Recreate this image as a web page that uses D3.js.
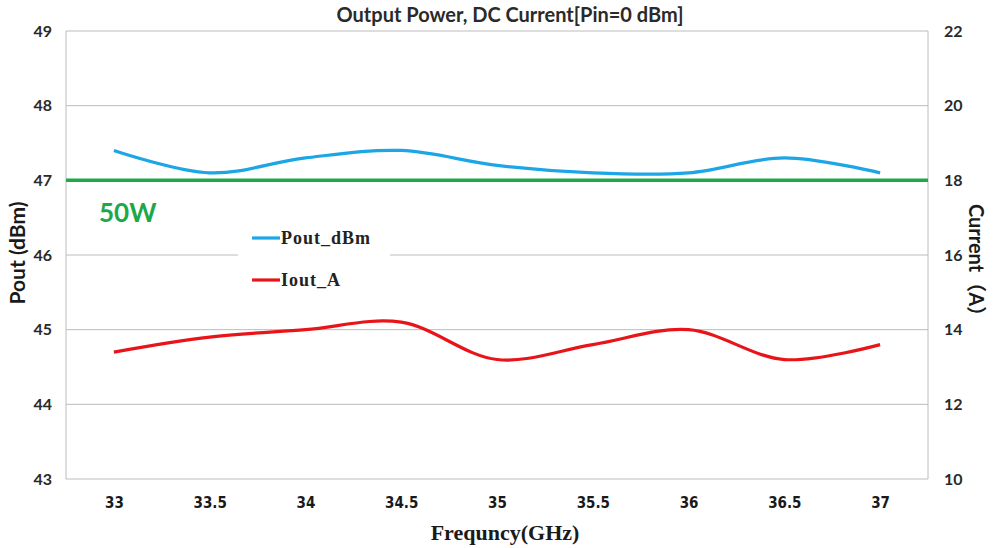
<!DOCTYPE html>
<html><head><meta charset="utf-8">
<script src="https://cdn.jsdelivr.net/npm/d3@7"></script>
<style>body{margin:0;background:#fff}svg{display:block}</style>
</head><body>
<svg id="c" width="993" height="548"></svg>
<script>
const categories = ["33","33.5","34","34.5","35","35.5","36","36.5","37"];
const poutDbm = [47.4,47.1,47.3,47.4,47.2,47.1,47.1,47.3,47.1];
const ioutA   = [13.4,13.8,14.0,14.2,13.2,13.6,14.0,13.2,13.6];
const refLevel = 47;
const leftTicks = [43,44,45,46,47,48,49];
const rightTicks = [10,12,14,16,18,20,22];

const svg = d3.select("#c");
const L = 66, R = 928, T = 31, B = 479;
const x = d3.scalePoint().domain(categories).range([L, R]).padding(0.5);
const yL = d3.scaleLinear().domain([43,49]).range([B, T]);
const yR = d3.scaleLinear().domain([10,22]).range([B, T]);

svg.append("g").selectAll("line").data(leftTicks).join("line")
  .attr("x1", L).attr("x2", R).attr("y1", d=>yL(d)).attr("y2", d=>yL(d))
  .attr("stroke", "#bcbcbc").attr("stroke-width", 1);
svg.append("line").attr("x1",L).attr("x2",L).attr("y1",T).attr("y2",B).attr("stroke","#bcbcbc");
svg.append("line").attr("x1",R).attr("x2",R).attr("y1",T).attr("y2",B).attr("stroke","#bcbcbc");

const lab = "Lato, 'Open Sans', sans-serif";
const gl = svg.append("g").attr("transform",`translate(${L},0)`)
  .call(d3.axisLeft(yL).tickValues(leftTicks).tickFormat(d3.format("d")).tickSize(0).tickPadding(14));
gl.select(".domain").remove();
gl.selectAll("text").attr("font-family", lab).attr("font-weight","bold").attr("font-size",16).attr("fill","#2a2a2a");
const gr = svg.append("g").attr("transform",`translate(${R},0)`)
  .call(d3.axisRight(yR).tickValues(rightTicks).tickFormat(d3.format("d")).tickSize(0).tickPadding(16));
gr.select(".domain").remove();
gr.selectAll("text").attr("font-family", lab).attr("font-weight","bold").attr("font-size",16).attr("fill","#2a2a2a");
const gx = svg.append("g").attr("transform",`translate(0,${B})`)
  .call(d3.axisBottom(x).tickSize(0).tickPadding(18));
gx.select(".domain").remove();
gx.selectAll("text").attr("font-family","'DejaVu Sans'").attr("font-stretch","condensed")
  .attr("font-weight","bold").attr("font-size",15).attr("fill","#1a1a1a");

svg.append("line").attr("x1",L).attr("x2",R).attr("y1",yL(refLevel)).attr("y2",yL(refLevel))
  .attr("stroke","#1ea84a").attr("stroke-width",3.5);

const curve = d3.curveCatmullRom.alpha(0.5);
svg.append("path").datum(poutDbm)
  .attr("d", d3.line().x((d,i)=>x(categories[i])).y(d=>yL(d)).curve(curve))
  .attr("fill","none").attr("stroke","#1ca6e6").attr("stroke-width",3.2);
svg.append("path").datum(ioutA)
  .attr("d", d3.line().x((d,i)=>x(categories[i])).y(d=>yR(d)).curve(curve))
  .attr("fill","none").attr("stroke","#e8141a").attr("stroke-width",3.2);

svg.append("text").attr("x",99).attr("y",222).text("50W")
  .attr("font-family",lab).attr("font-weight","bold").attr("font-size",26).attr("fill","#1ea84a");

const lg = svg.append("g");
lg.append("rect").attr("x",238).attr("y",222).attr("width",152).attr("height",70).attr("fill","#fff");
const items = [{name:"Pout_dBm", c:"#1ca6e6", y:238},{name:"Iout_A", c:"#e8141a", y:280}];
items.forEach(it=>{
  lg.append("line").attr("x1",252).attr("x2",280).attr("y1",it.y).attr("y2",it.y)
    .attr("stroke",it.c).attr("stroke-width",3.2);
  lg.append("text").attr("x",281).attr("y",it.y+6).text(it.name)
    .attr("font-family","'Liberation Serif','Times New Roman',serif").attr("font-weight","bold")
    .attr("font-size",18).attr("letter-spacing",1).attr("fill","#222");
});

svg.append("text").attr("x",510).attr("y",22).attr("text-anchor","middle")
  .text("Output Power, DC Current[Pin=0 dBm]")
  .attr("font-family",lab).attr("font-weight","bold").attr("font-size",20).attr("fill","#2a2a2a");
svg.append("text").attr("transform","translate(25,253) rotate(-90)").attr("text-anchor","middle")
  .text("Pout (dBm)").attr("font-family",lab).attr("font-weight","bold").attr("font-size",21).attr("fill","#1a1a1a");
svg.append("text").attr("transform","translate(969,265) rotate(90)").attr("text-anchor","middle")
  .text("Current（A）").attr("font-family",lab+",'Noto Sans CJK SC'").attr("font-weight","bold").attr("font-size",20).attr("fill","#1a1a1a");
svg.append("text").attr("x",505).attr("y",540).attr("text-anchor","middle")
  .text("Frequncy(GHz)").attr("font-family","'Liberation Serif','Times New Roman',serif")
  .attr("font-weight","bold").attr("font-size",22).attr("fill","#1a1a1a");
</script>
</body></html>
